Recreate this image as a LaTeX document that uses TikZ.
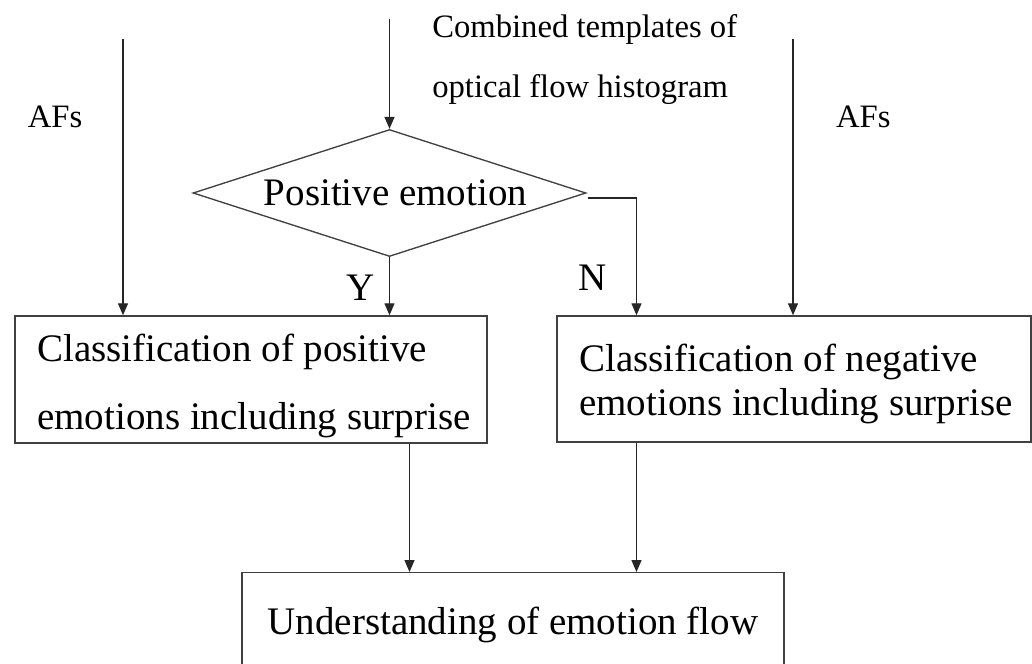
\documentclass[tikz,border=0pt]{standalone}
\usepackage{fontspec}
\setmainfont{Liberation Serif}
\usetikzlibrary{shapes.geometric,arrows.meta}

\tikzset{
  wire/.style={draw=black!85, line width=1pt},
  arr/.style={wire, -{Triangle[length=9pt,width=7.5pt]}},
  procbox/.style={draw=black!75, line width=1.1pt, rectangle, inner sep=0pt},
  decide/.style={draw=black!75, line width=1pt, shape=diamond, inner sep=0pt,
    aspect=3.094, minimum width=294.75pt, minimum height=95.25pt,
    font=\fontsize{29.25pt}{33pt}\selectfont},
  bigtxt/.style={inner sep=0pt, font=\fontsize{29.25pt}{33pt}\selectfont},
  smalltxt/.style={inner sep=0pt, font=\fontsize{24.5pt}{28pt}\selectfont},
}

\begin{document}
\begin{tikzpicture}[x=0.75pt,y=-0.75pt]
  \useasboundingbox (0,0) rectangle (1032,664);
  \fill[white] (0,0) rectangle (1032,664);
  \clip (0,0) rectangle (1032,664);

  % decision
  \node[decide] (dia) at (389.5,193) {\hspace*{9pt}Positive emotion};

  % classifier boxes
  \node[procbox, minimum width=354pt, minimum height=95.25pt] (lbox) at (251,379.5) {};
  \node[procbox, minimum width=355.5pt, minimum height=94.5pt] (rbox) at (794,379) {};
  \node[procbox, minimum width=406.5pt, minimum height=79.5pt, anchor=north] (bbox) at (513,572) {};

  % box texts (anchored at the baseline of the last line)
  \node[bigtxt, anchor=base west, align=left] (ltxt) at (37,429)
    {Classification of positive\\[18pt]emotions including surprise};
  \node[bigtxt, anchor=base west, align=left] (rtxt) at (579,415)
    {Classification of negative\\emotions including surprise};
  \node[bigtxt, anchor=base] (btxt) at (513,634) {Understanding of emotion flow};

  % input labels
  \node[smalltxt, anchor=base west] (cmb1) at (432,37) {Combined templates of};
  \node[smalltxt, anchor=base west] (cmb2) at (432,97) {optical flow histogram};
  \node[smalltxt, anchor=base west] (afl) at (27.5,127.7) {AFs};
  \node[smalltxt, anchor=base west] (afr) at (835.8,127.7) {AFs};

  % branch labels
  \node[bigtxt, anchor=base] (ylab) at (360.5,300) {Y};
  \node[bigtxt, anchor=base] (nlab) at (593,290) {N};

  % free ends of the input arrows
  \coordinate (inL) at (123,39);
  \coordinate (inM) at (389.5,19);
  \coordinate (inR) at (793,39);
  \coordinate (nx) at (636.5,198);
  \coordinate (px) at (409.5,443);

  % connectors
  \draw[arr] (inL) -- (inL |- lbox.north);
  \draw[arr] (inM) -- (dia.north);
  \draw[arr] (inR) -- (inR |- rbox.north);
  \draw[arr] (dia.south) -- (dia.south |- lbox.north);
  \draw[arr] ([xshift=0.75pt,yshift=-3.75pt]dia.east) -- (nx) -- (nx |- rbox.north);
  \draw[arr] (px |- lbox.south) -- (px |- bbox.north);
  \draw[arr] (nx |- rbox.south) -- (nx |- bbox.north);
\end{tikzpicture}
\end{document}
